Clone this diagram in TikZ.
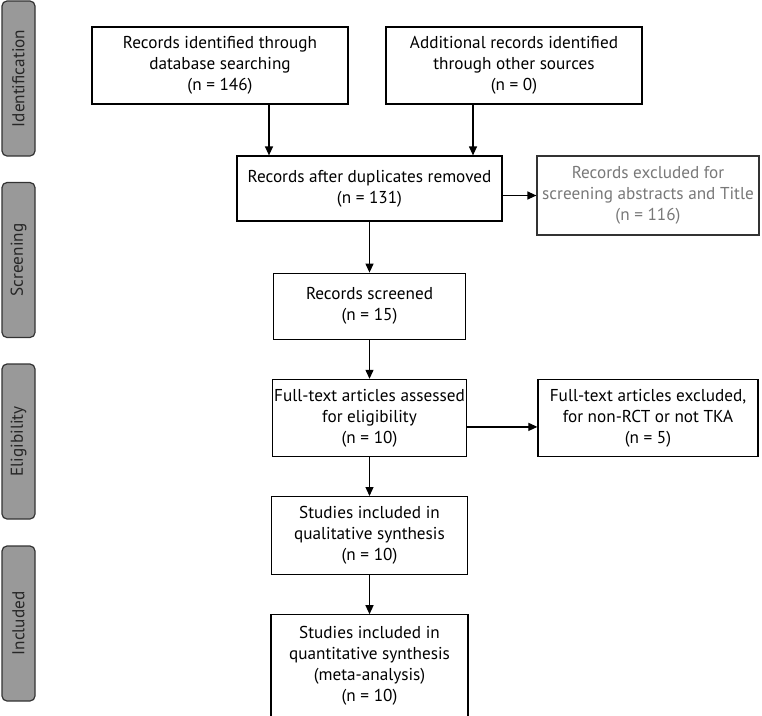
\documentclass[tikz,border=0pt]{standalone}
\usepackage{fontspec}
\setmainfont{PT Sans}
\usepackage{tikz}
\usetikzlibrary{arrows.meta,positioning}
\definecolor{TabGray}{RGB}{153,153,153}
\definecolor{ExclGray}{RGB}{120,120,120}

\begin{document}
\begin{tikzpicture}[
    x=1pt, y=-1pt,
    node distance=39pt,
    box/.style={draw=black, line width=1.2pt, align=center, inner sep=2pt, font=\fontsize{17.2}{21}\selectfont},
    tab/.style={draw=black!80, fill=TabGray, rounded corners=5pt, line width=1.2pt, rotate=90,
        minimum width=155pt, minimum height=33pt, text=black!85, font=\fontsize{17.2}{20}\selectfont},
    arr/.style={-{Triangle[length=9pt, width=8pt]}, line width=1.2pt}
]
    \useasboundingbox (0,0) rectangle (762,715);

    % phase tabs
    \node[tab] (tabid) at (18.5,78.5) {Identification};
    \node[tab] (tabscr) at (18.5,260) {Screening};
    \node[tab] (tabelig) at (18.5,441.5) {Eligibility};
    \node[tab] (tabincl) at (18.5,623.5) {Included};

    % identification
    \node[box, minimum width=256pt, minimum height=77pt] (ident) at (220,65.5) {Records identified through\\database searching\\(n = 146)};
    \node[box, minimum width=256pt, minimum height=77pt] (other) at (514,65.5) {Additional records identified\\through other sources\\(n = 0)};

    % screening
    \node[box, draw=black!80, font=\fontsize{17.2}{21}\selectfont\color{ExclGray}, minimum width=222pt, minimum height=79pt] (excl) at (648,195.5) {Records excluded for\\screening abstracts and Title\\(n = 116)};
    \node[box, minimum width=265pt, minimum height=65pt] (dup) at (369.5,188.5) {Records after duplicates removed\\(n = 131)};
    \node[box, below=51pt of dup, minimum width=192pt, minimum height=66pt] (scr) {Records screened\\(n = 15)};

    % eligibility
    \node[box, below=of scr, minimum width=194pt, minimum height=77pt] (elig) {Full-text articles assessed\\for eligibility\\(n = 10)};
    \node[box, right=70pt of elig, minimum width=220pt, minimum height=77pt] (exclft) {Full-text articles excluded,\\for non-RCT or not TKA\\(n = 5)};

    % included
    \node[box, below=of elig, minimum width=196pt, minimum height=78pt] (qual) {Studies included in\\qualitative synthesis\\(n = 10)};
    \node[box, below=of qual, minimum width=197pt, minimum height=102pt] (quant) {Studies included in\\quantitative synthesis\\(meta-analysis)\\(n = 10)};

    \draw[arr] ([xshift=49pt]ident.south) -- ([xshift=49pt]ident.south |- dup.north);
    \draw[arr] ([xshift=-41pt]other.south) -- ([xshift=-41pt]other.south |- dup.north);
    \draw[arr] (dup.east |- excl.west) -- (excl.west);
    \draw[arr] (dup.south) -- (scr.north);
    \draw[arr] (scr.south) -- (elig.north);
    \draw[arr] ([yshift=-9pt]elig.east) -- ([yshift=-9pt]exclft.west);
    \draw[arr] (elig.south) -- (qual.north);
    \draw[arr] (qual.south) -- (quant.north);
\end{tikzpicture}
\end{document}
